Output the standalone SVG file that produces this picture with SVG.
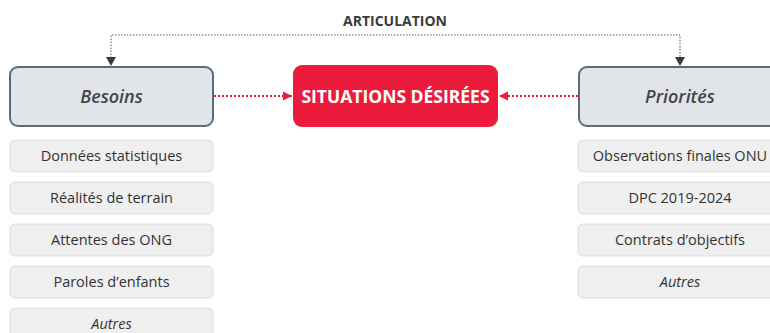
<svg xmlns="http://www.w3.org/2000/svg" width="770" height="333" viewBox="0 0 770 333">
<defs>
<marker id="ar" markerWidth="10" markerHeight="10" refX="9" refY="5" orient="auto" markerUnits="userSpaceOnUse"><path d="M0,0.5 L9,5 L0,9.5 Z" fill="#ed1b3b"/></marker>
</defs>
<style>
text{font-family:"Open Sans","DejaVu Sans",sans-serif;text-anchor:middle}
.main{fill:#e1e5ea;stroke:#5b6b79;stroke-width:2}
.sub{fill:#efefef;stroke:#dcdcdc;stroke-width:1}
.st{font-size:14.5px;fill:#333}
.mt{font-size:18px;font-style:italic;font-weight:600;fill:#444}
.it{font-style:italic}
</style>
<rect width="770" height="333" fill="#fff"/>
<g id="connectors">
<path d="M111,58 V35 H680 V58" fill="none" stroke="#555" stroke-width="1" stroke-dasharray="1.5,1.5"/>
<path d="M111,57 L106,57 L111,66 L116,57 Z" fill="#3a3a3a"/>
<path d="M680,57 L675,57 L680,66 L685,57 Z" fill="#3a3a3a"/>
<path d="M214,96 H292" fill="none" stroke="#ed1b3b" stroke-width="2" stroke-dasharray="2,2" marker-end="url(#ar)"/>
<path d="M578,96 H499" fill="none" stroke="#ed1b3b" stroke-width="2" stroke-dasharray="2,2" marker-end="url(#ar)"/>
<text x="395" y="26" style="font-size:14px;font-weight:bold;fill:#3a3a3a">ARTICULATION</text>
</g>
<g id="besoins">
<rect class="main" x="10" y="67" width="203" height="59" rx="8"/>
<text class="mt" x="111.5" y="103">Besoins</text>
</g>
<g id="situations">
<rect x="293" y="65" width="205" height="62" rx="9" fill="#ed1b3b"/>
<text x="395.5" y="103" style="font-size:17.5px;font-weight:bold;fill:#fff">SITUATIONS DÉSIRÉES</text>
</g>
<g id="priorites">
<rect class="main" x="579" y="67" width="210" height="59" rx="8"/>
<text class="mt" x="680" y="103">Priorités</text>
</g>
<g id="b1"><rect class="sub" x="10" y="140" width="203" height="32" rx="5"/><text class="st" x="111.5" y="161">Données statistiques</text></g>
<g id="b2"><rect class="sub" x="10" y="182" width="203" height="32" rx="5"/><text class="st" x="111.5" y="203">Réalités de terrain</text></g>
<g id="b3"><rect class="sub" x="10" y="224" width="203" height="32" rx="5"/><text class="st" x="111.5" y="245">Attentes des ONG</text></g>
<g id="b4"><rect class="sub" x="10" y="266" width="203" height="32" rx="5"/><text class="st" x="111.5" y="287">Paroles d’enfants</text></g>
<g id="b5"><rect class="sub" x="10" y="308" width="203" height="32" rx="5"/><text class="st it" x="111.5" y="329">Autres</text></g>
<g id="p1"><rect class="sub" x="578" y="140" width="204" height="32" rx="5"/><text class="st" x="680" y="161">Observations finales ONU</text></g>
<g id="p2"><rect class="sub" x="578" y="182" width="204" height="32" rx="5"/><text class="st" x="680" y="203">DPC 2019-2024</text></g>
<g id="p3"><rect class="sub" x="578" y="224" width="204" height="32" rx="5"/><text class="st" x="680" y="245">Contrats d’objectifs</text></g>
<g id="p4"><rect class="sub" x="578" y="266" width="204" height="32" rx="5"/><text class="st it" x="680" y="287">Autres</text></g>
</svg>
